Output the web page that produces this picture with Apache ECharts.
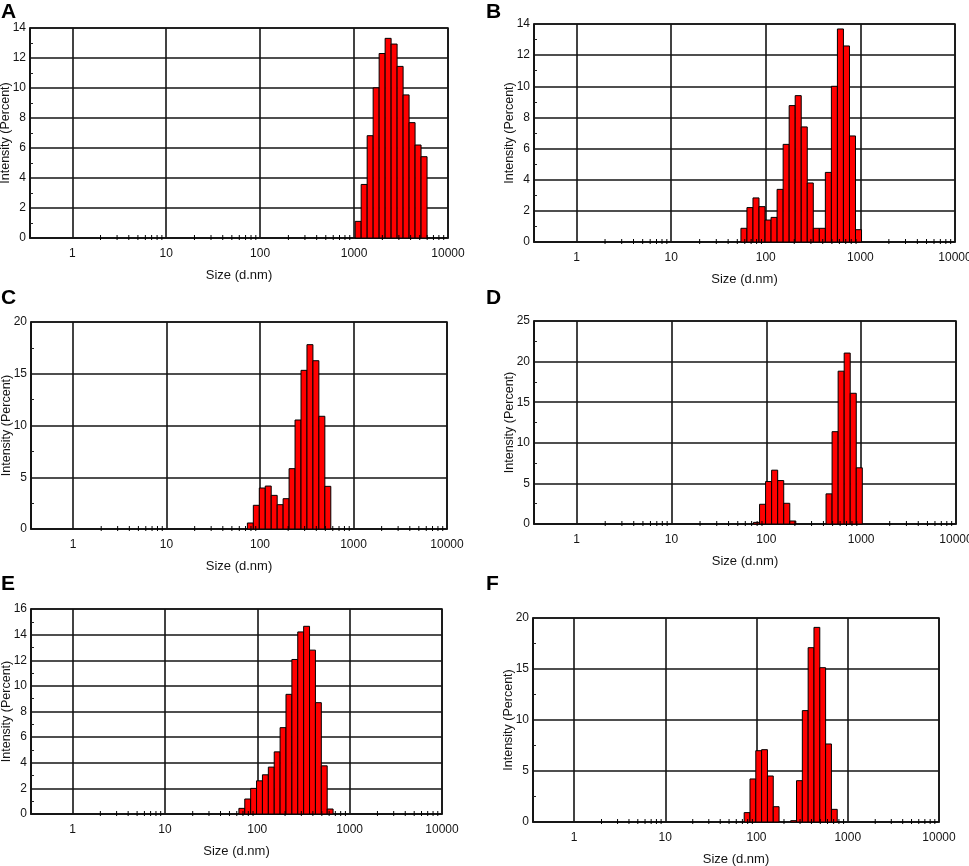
<!DOCTYPE html>
<html>
<head>
<meta charset="utf-8">
<script src="https://cdn.jsdelivr.net/npm/echarts@6/dist/echarts.min.js"></script>
<style>
  html, body { margin: 0; padding: 0; background: #fff; }
  #chart { width: 969px; height: 866px; }
</style>
</head>
<body>
<div id="chart"></div>
<script>
// size classes of the instrument (d.nm), one bar is centred on each
const sizeClasses = [
  0.4, 0.4632, 0.5365, 0.6213, 0.7195, 0.8332, 0.9649, 1.117, 1.294, 1.499,
  1.736, 2.010, 2.328, 2.696, 3.122, 3.615, 4.187, 4.849, 5.615, 6.503,
  7.531, 8.721, 10.10, 11.70, 13.54, 15.69, 18.17, 21.04, 24.36, 28.21,
  32.67, 37.84, 43.82, 50.75, 58.77, 68.06, 78.82, 91.28, 105.7, 122.4,
  141.8, 164.2, 190.1, 220.2, 255.0, 295.3, 342.0, 396.1, 458.7, 531.2,
  615.1, 712.4, 825.0, 955.4, 1106, 1281, 1484, 1718, 1990, 2305,
  2669, 3091, 3580, 4145, 4801, 5560, 6439, 7456, 8635, 10000
];
const minorTickSizes = [
  2, 3, 4, 5, 6, 7, 8, 9,
  20, 30, 40, 50, 60, 70, 80, 90,
  200, 300, 400, 500, 600, 700, 800, 900,
  2000, 3000, 4000, 5000, 6000, 7000, 8000, 9000
];

// intensity (%) per panel, starting at class index first*
const firstA = 54;
const intensityA = [1.11, 3.57, 6.82, 10.01, 12.30, 13.31, 12.93, 11.44, 9.54, 7.69, 6.20, 5.42];
const firstB = 34;
const intensityB = [0.88, 2.21, 2.83, 2.27, 1.41, 1.58, 3.38, 6.27, 8.76, 9.40, 7.39, 3.79, 0.88, 0.88, 4.47, 10.0, 13.68, 12.59, 6.81, 0.79];
const firstC = 36;
const intensityC = [0.58, 2.29, 3.96, 4.15, 3.25, 2.35, 2.93, 5.83, 10.53, 15.33, 17.81, 16.26, 10.89, 4.12];
const firstD = 36;
const intensityD = [0.2, 2.43, 5.23, 6.63, 5.35, 2.55, 0.37, 0, 0, 0, 0, 0, 3.71, 11.37, 18.82, 21.05, 16.10, 6.92];
const firstE = 35;
const intensityE = [0.44, 1.17, 2.0, 2.59, 3.06, 3.66, 4.85, 6.74, 9.34, 12.06, 14.21, 14.65, 12.79, 8.69, 3.76, 0.39];
const firstF = 36;
const intensityF = [0.92, 4.22, 6.99, 7.09, 4.51, 1.50, 0, 0, 0.13, 4.05, 10.92, 17.09, 19.08, 15.13, 7.65, 1.24];

const panelLetters = ['A', 'B', 'C', 'D', 'E', 'F'];
const yMax = [14, 14, 20, 25, 16, 20];
const yStep = [2, 2, 5, 5, 2, 5];

const panelData = [
  [firstA, intensityA], [firstB, intensityB], [firstC, intensityC],
  [firstD, intensityD], [firstE, intensityE], [firstF, intensityF]
];

// plot boxes in pixels
const boxes = [
  { left: 30, top: 28, width: 418, height: 210 },
  { left: 534, top: 24, width: 421, height: 218 },
  { left: 31, top: 322, width: 416, height: 207 },
  { left: 534, top: 321, width: 422, height: 203 },
  { left: 31, top: 609, width: 411, height: 205 },
  { left: 533, top: 618, width: 406, height: 204 }
];
const letterPos = [[1, 2], [486, 2], [1, 288], [486, 288], [1, 574], [486, 574]];

const narrow = '"Liberation Sans Narrow", "Arial Narrow", "Liberation Sans", Arial, sans-serif';
const regular = '"Liberation Sans", Arial, sans-serif';
const ink = '#141414';

function barRows(first, values) {
  return values.map((v, k) => {
    const i = first + k;
    const s = sizeClasses[i];
    const lo = Math.sqrt(sizeClasses[i - 1] * s);
    const hi = Math.sqrt(s * sizeClasses[i + 1]);
    return [s, v, lo, hi];
  });
}

function renderBar(params, api) {
  const v = api.value(1);
  if (!(v > 0)) return null;
  const p0 = api.coord([api.value(2), 0]);
  const p1 = api.coord([api.value(3), v]);
  return {
    type: 'rect',
    shape: { x: p0[0], y: p1[1], width: p1[0] - p0[0], height: p0[1] - p1[1] },
    style: { fill: '#ff0000', stroke: '#000', lineWidth: 1 }
  };
}

function renderMinorTick(params, api) {
  const p = api.coord([api.value(0), 0]);
  return {
    type: 'line',
    shape: { x1: p[0], y1: p[1] - 3, x2: p[0], y2: p[1] + 2 },
    style: { stroke: '#000', lineWidth: 1 }
  };
}

const grid = [], xAxis = [], yAxis = [], series = [], title = [];

boxes.forEach((b, n) => {
  grid.push(Object.assign({
    show: true, borderColor: ink, borderWidth: 1.6,
    containLabel: false, outerBoundsMode: 'none'
  }, b));
  title.push({
    text: panelLetters[n], left: letterPos[n][0], top: letterPos[n][1], padding: 0,
    textStyle: { fontFamily: regular, fontSize: 21, fontWeight: 'bold', color: '#000' }
  });
  xAxis.push({
    type: 'log', logBase: 10, gridIndex: n, min: 0.355, max: 10000,
    name: 'Size (d.nm)', nameLocation: 'middle', nameGap: 31, nameMoveOverlap: false,
    nameTextStyle: { fontFamily: narrow, fontSize: 13, color: ink },
    axisLine: { show: true, lineStyle: { color: ink, width: 1.6 } },
    axisTick: { show: false },
    axisLabel: {
      showMinLabel: false, margin: 10, fontFamily: narrow, fontSize: 12, color: ink,
      formatter: v => String(Math.round(v))
    },
    splitLine: { show: true, lineStyle: { color: ink, width: 1.6 } }
  });
  yAxis.push({
    type: 'value', gridIndex: n, min: 0, max: yMax[n], interval: yStep[n],
    name: 'Intensity (Percent)', nameLocation: 'middle', nameGap: 18, nameMoveOverlap: false,
    nameTextStyle: { fontFamily: regular, fontSize: 12.5, color: ink },
    axisLine: { show: true, lineStyle: { color: ink, width: 1.6 } },
    axisTick: { show: false, inside: true },
    minorTick: { show: true, splitNumber: 2, length: 3, lineStyle: { color: '#222', width: 1 } },
    axisLabel: { margin: 4, fontFamily: narrow, fontSize: 12, color: ink },
    splitLine: { show: true, lineStyle: { color: ink, width: 1.6 } }
  });
  series.push({
    type: 'custom', xAxisIndex: n, yAxisIndex: n,
    renderItem: renderMinorTick,
    data: minorTickSizes.map(t => [t, 0]),
    encode: { x: 0, y: 1 }, silent: true, z: 3
  });
  series.push({
    type: 'custom', xAxisIndex: n, yAxisIndex: n,
    renderItem: renderBar,
    data: barRows(panelData[n][0], panelData[n][1]),
    encode: { x: [0, 2, 3], y: 1 }, z: 2
  });
});

const chart = echarts.init(document.getElementById('chart'), null, { renderer: 'canvas' });
chart.setOption({
  backgroundColor: '#fff',
  animation: false,
  title, grid, xAxis, yAxis, series
});
</script>
</body>
</html>
